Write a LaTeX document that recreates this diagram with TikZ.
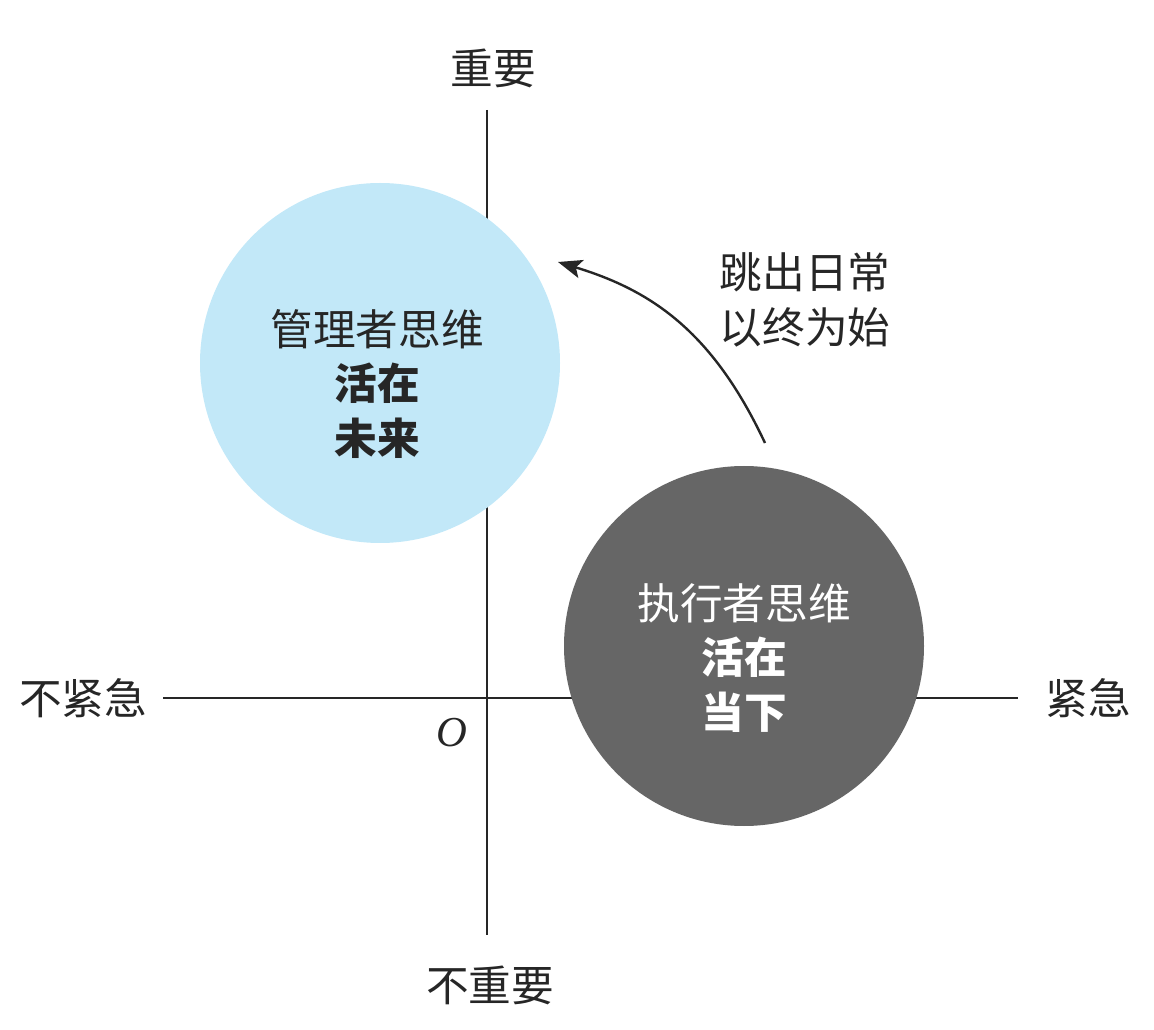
\documentclass[tikz,border=0pt]{standalone}
\usepackage{fontspec}
\setmainfont{Noto Sans CJK SC}
\newfontfamily\latinserif{Liberation Serif}
\usetikzlibrary{arrows.meta}
\definecolor{lightblue}{HTML}{C2E8F8}
\definecolor{darkgray}{HTML}{666666}
\tikzset{
  axisline/.style={line width=1.8pt, draw=black!85},
  lbl/.style={font=\fontsize{32}{38}\selectfont, inner sep=0pt, text=black!85},
  circtext/.style={font=\fontsize{32}{41}\selectfont, align=center, inner sep=0pt},
  arrowline/.style={line width=1.8pt, draw=black!85, -{Stealth[length=18pt,width=14pt,inset=4pt]}},
}
\begin{document}
\begin{tikzpicture}[x=0.75pt,y=-0.75pt]
\useasboundingbox (0,0) rectangle (1154,1030);
% axes
\coordinate (ytop) at (487,110);
\coordinate (ybot) at (487,935);
\coordinate (xleft) at (163,698);
\coordinate (xright) at (1018,698);
\draw[axisline] (ytop) -- (ybot);
\draw[axisline] (xleft) -- (xright);
% circles
\fill[lightblue] (380,363) circle[radius=180];
\fill[darkgray] (744,646) circle[radius=180];
% axis labels
\node[lbl] (imp) at (493,68) {重要};
\node[lbl] (notimp) at (490,985) {不重要};
\node[lbl] (noturg) at (83,698) {不紧急};
\node[lbl] (urg) at (1088,698) {紧急};
\node[lbl, font=\latinserif\itshape\fontsize{32}{38}\selectfont] (o) at (452,733) {O};
% circle texts
\node[circtext, text=black!85] (mgr) at (377,384) {管理者思维\\\textbf{活在}\\\textbf{未来}};
\node[circtext, text=white] (exe) at (744,658) {执行者思维\\\textbf{活在}\\\textbf{当下}};
% arrow
\coordinate (astart) at (765,443);
\coordinate (aend) at (558,262);
\draw[arrowline] (astart) .. controls (712,330) and (650,290) .. (aend);
\node[lbl, align=center, font=\fontsize{32}{41}\selectfont] (jump) at (805,300) {跳出日常\\以终为始};
\end{tikzpicture}
\end{document}
